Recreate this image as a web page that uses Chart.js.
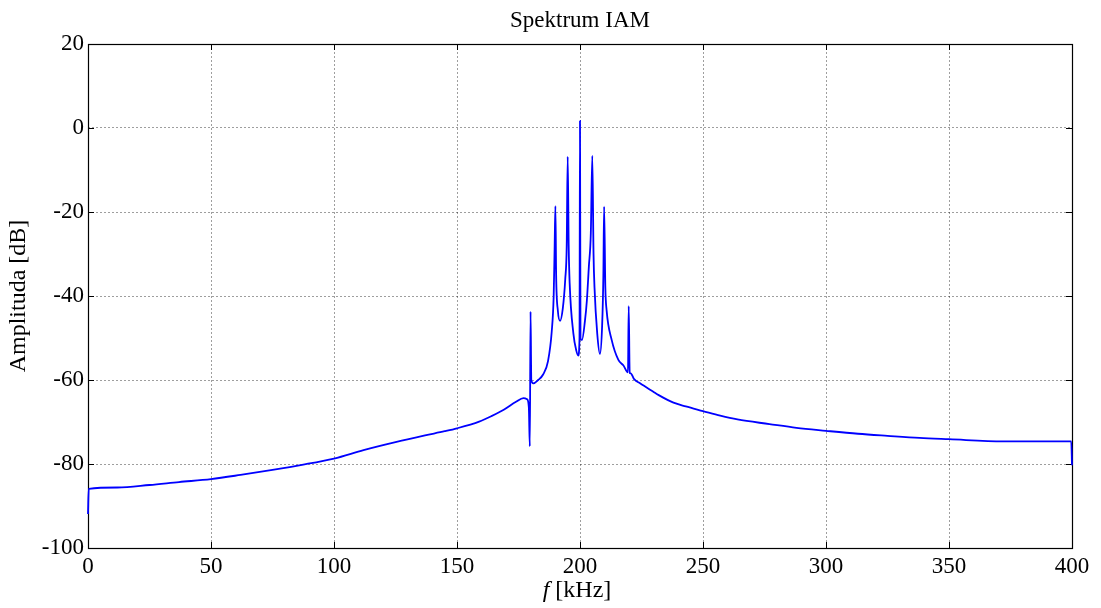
<!DOCTYPE html>
<html>
<head>
<meta charset="utf-8">
<script src="https://cdn.jsdelivr.net/npm/chart.js@4/dist/chart.umd.min.js"></script>
<style>
    html, body { margin: 0; padding: 0; background: #fff; }
    canvas { display: block; }
</style>
</head>
<body>
<canvas id="myChart" width="1101" height="608"></canvas>
<script>
// spectrum, f in kHz, amplitude in dB
var freqs = [0, 0.3, 12, 25, 37, 50, 62, 75, 87, 100, 112, 125, 137, 145, 150, 159, 164, 169, 174, 177, 178.5, 179.2, 179.6, 179.9, 180.2, 181,
    183, 185, 187, 188.5, 189.3, 189.7, 190, 190.3, 191, 191.9, 193, 194, 194.6, 195, 195.4, 195.8, 197.3, 198.5,
    199.3, 199.8, 200, 200.2, 200.8, 202, 202.8, 203.6, 204.4, 205, 205.5, 205.9, 207, 208.1, 209, 209.5, 209.8,
    210.3, 210.8, 212.9, 215.6, 217.6, 219.5, 219.8, 220.2, 220.6, 222, 224.4, 229.8, 232, 238, 243, 250, 257, 264, 277, 288, 300,
    313, 325, 338, 350, 372, 385, 399.7, 400];
var amps = [-91.9, -85.9, -85.6, -85.0, -84.3, -83.6, -82.6, -81.4, -80.2, -78.7, -76.7, -74.8, -73.2, -72.2, -71.5, -69.9, -68.6, -67.1, -65.2, -64.3, -64.6, -66.5, -75.8, -43.7, -60.0, -60.8,
    -60.0, -58.7, -55.5, -48.5, -40, -28, -18.6, -35, -43.5, -45.9, -43, -36, -28, -6.8, -28, -37, -48.9, -53,
    -54.2, -50, 1.7, -50, -50.5, -46, -41, -33, -25, -6.6, -30, -38, -48.9, -53.8, -47, -35, -18.7,
    -38, -43.3, -50.5, -55.2, -56.5, -58.2, -42.4, -58.3, -58.4, -59.8, -60.8, -62.8, -63.6, -65.4, -66.3, -67.4, -68.5, -69.4, -70.5, -71.4, -72.1,
    -72.8, -73.3, -73.8, -74.1, -74.6, -74.6, -74.6, -80.3];

var xTicks = [0, 50, 100, 150, 200, 250, 300, 350, 400];
var yTicks = [-100, -80, -60, -40, -20, 0, 20];

var chartTitle = 'Spektrum IAM';
var yLabel = 'Amplituda [dB]';
var serif = '"Liberation Serif", "Times New Roman", serif';

var points = freqs.map(function (f, i) {
    return { x: f, y: amps[i] };
});

// box, inward ticks, title and x label (matlab style), drawn under the line
var matlabFrame = {
    id: 'matlabFrame',
    beforeDatasetsDraw: function (chart) {
        var ctx = chart.ctx;
        var a = chart.chartArea;
        var xs = chart.scales.x, ys = chart.scales.y;
        var tl = 6;
        ctx.save();
        ctx.strokeStyle = '#000';
        ctx.lineWidth = 1;
        ctx.beginPath();
        xTicks.forEach(function (v) {
            var px = Math.round(xs.getPixelForValue(v)) + 0.5;
            ctx.moveTo(px, a.bottom); ctx.lineTo(px, a.bottom - tl);
            ctx.moveTo(px, a.top); ctx.lineTo(px, a.top + tl);
        });
        yTicks.forEach(function (v) {
            var py = Math.round(ys.getPixelForValue(v)) + 0.5;
            ctx.moveTo(a.left, py); ctx.lineTo(a.left + tl, py);
            ctx.moveTo(a.right, py); ctx.lineTo(a.right - tl, py);
        });
        ctx.stroke();
        ctx.lineWidth = 1.2;
        ctx.strokeRect(Math.round(a.left) + 0.5, Math.round(a.top) + 0.5,
            Math.round(a.right - a.left), Math.round(a.bottom - a.top));

        ctx.fillStyle = '#000';
        ctx.textBaseline = 'alphabetic';
        ctx.textAlign = 'center';
        ctx.font = '23px ' + serif;
        ctx.fillText(chartTitle, (a.left + a.right) / 2, 27);

        // x label: italic f, then unit
        var cx = (a.left + a.right) / 2 - 3;
        ctx.font = 'italic 24px ' + serif;
        var w1 = ctx.measureText('f').width;
        ctx.font = '24px ' + serif;
        var rest = ' [kHz]';
        var w2 = ctx.measureText(rest).width;
        var x0 = cx - (w1 + w2) / 2;
        ctx.textAlign = 'left';
        ctx.font = 'italic 24px ' + serif;
        ctx.fillText('f', x0, 597);
        ctx.font = '24px ' + serif;
        ctx.fillText(rest, x0 + w1, 597);
        ctx.restore();
    }
};

var ctx = document.getElementById('myChart');
var myChart = new Chart(ctx, {
    type: 'line',
    data: {
        datasets: [
            {
                label: 'IAM',
                data: points,
                borderColor: '#0000ff',
                borderWidth: 1.8,
                pointRadius: 0,
                fill: false,
                clip: 2,
                cubicInterpolationMode: 'monotone'
            }
        ]
    },
    options: {
        responsive: false,
        animation: false,
        layout: { padding: { top: 44, right: 29, left: 0, bottom: 0 } },
        plugins: {
            legend: { display: false },
            title: { display: false },
            tooltip: { enabled: false }
        },
        scales: {
            x: {
                type: 'linear',
                min: 0,
                max: 400,
                afterBuildTicks: function (scale) {
                    scale.ticks = xTicks.map(function (v) { return { value: v }; });
                },
                afterFit: function (scale) { scale.height = 60; },
                grid: { color: 'rgba(0,0,0,0.38)', lineWidth: 1, drawTicks: false },
                border: { display: false, dash: [2, 2] },
                ticks: {
                    color: '#000',
                    padding: 5,
                    maxRotation: 0,
                    font: { family: serif, size: 23 }
                }
            },
            y: {
                type: 'linear',
                min: -100,
                max: 20,
                afterBuildTicks: function (scale) {
                    scale.ticks = yTicks.map(function (v) { return { value: v }; });
                },
                afterFit: function (scale) { scale.width = 88; },
                grid: { color: 'rgba(0,0,0,0.38)', lineWidth: 1, drawTicks: false },
                border: { display: false, dash: [2, 2] },
                title: {
                    display: true,
                    text: yLabel,
                    color: '#000',
                    padding: 4,
                    font: { family: serif, size: 24 }
                },
                ticks: {
                    color: '#000',
                    padding: 4,
                    font: { family: serif, size: 23 }
                }
            }
        }
    },
    plugins: [matlabFrame]
});
</script>
</body>
</html>
